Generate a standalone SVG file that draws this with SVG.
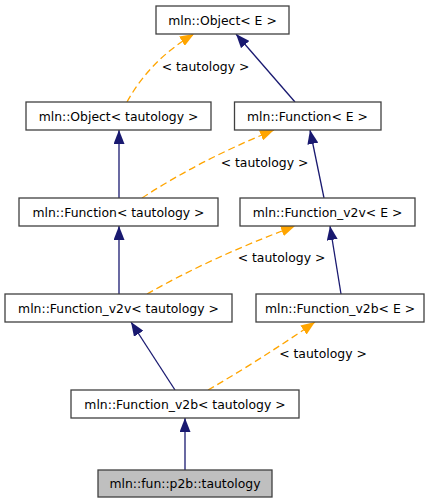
<svg xmlns="http://www.w3.org/2000/svg" width="437" height="504" viewBox="0 0 437 504">
<style>
.node rect{fill:#ffffff;stroke:#404040;stroke-width:1.3}
.node.cur rect{fill:#bfbfbf}
text{font-family:"DejaVu Sans","Liberation Sans",sans-serif;font-size:12.4px;fill:#000000;text-anchor:middle}
.inh{fill:none;stroke:#191970;stroke-width:1.3}
.tpl{fill:none;stroke:#ffa500;stroke-width:1.3;stroke-dasharray:7,4}
</style>
<defs>
<marker id="an" markerUnits="userSpaceOnUse" markerWidth="14" markerHeight="11" refX="14" refY="5.5" orient="auto"><path d="M0,0 L14,5.5 L0,11 z" fill="#191970"/></marker>
<marker id="ao" markerUnits="userSpaceOnUse" markerWidth="14" markerHeight="11" refX="14" refY="5.5" orient="auto"><path d="M0,0 L14,5.5 L0,11 z" fill="#ffa500"/></marker>
</defs>
<rect width="437" height="504" fill="#ffffff"/>
<g id="connectors">
<path class="inh" d="M295,102 L236,34" marker-end="url(#an)"/>
<path class="tpl" d="M127,102 Q150,60 194,34" marker-end="url(#ao)"/>
<path class="inh" d="M119,198 L119,130" marker-end="url(#an)"/>
<path class="tpl" d="M142,198 Q200,160 274,130" marker-end="url(#ao)"/>
<path class="inh" d="M324,198 L310,130" marker-end="url(#an)"/>
<path class="inh" d="M119,294 L119,226" marker-end="url(#an)"/>
<path class="tpl" d="M147,294 Q210,258 295,226" marker-end="url(#ao)"/>
<path class="inh" d="M341,294 L330,226" marker-end="url(#an)"/>
<path class="inh" d="M175,390 L131,322" marker-end="url(#an)"/>
<path class="tpl" d="M208,390 Q260,360 315,322" marker-end="url(#ao)"/>
<path class="inh" d="M185,470 L185,418" marker-end="url(#an)"/>
<text x="205.5" y="71">&lt; tautology &gt;</text>
<text x="264.5" y="167">&lt; tautology &gt;</text>
<text x="281.5" y="262">&lt; tautology &gt;</text>
<text x="323" y="358">&lt; tautology &gt;</text>
</g>
<g id="n1" class="node"><rect x="156" y="6" width="133" height="28"/><text x="222.5" y="24.5">mln::Object&lt; E &gt;</text></g>
<g id="n2" class="node"><rect x="26" y="102" width="185" height="28"/><text x="118.5" y="120.5">mln::Object&lt; tautology &gt;</text></g>
<g id="n3" class="node"><rect x="234.5" y="102" width="146.5" height="28"/><text x="307.5" y="120.5">mln::Function&lt; E &gt;</text></g>
<g id="n4" class="node"><rect x="19" y="198" width="199" height="28"/><text x="118.5" y="216.5">mln::Function&lt; tautology &gt;</text></g>
<g id="n5" class="node"><rect x="240" y="198" width="175" height="28"/><text x="327.5" y="216.5">mln::Function_v2v&lt; E &gt;</text></g>
<g id="n6" class="node"><rect x="5" y="294" width="227" height="28"/><text x="118.5" y="312.5">mln::Function_v2v&lt; tautology &gt;</text></g>
<g id="n7" class="node"><rect x="256" y="294" width="168" height="28"/><text x="340" y="312.5">mln::Function_v2b&lt; E &gt;</text></g>
<g id="n8" class="node"><rect x="71" y="390" width="228" height="28"/><text x="185" y="408.5">mln::Function_v2b&lt; tautology &gt;</text></g>
<g id="n9" class="node cur"><rect x="98" y="470" width="174" height="27"/><text x="185" y="488">mln::fun::p2b::tautology</text></g>
</svg>
